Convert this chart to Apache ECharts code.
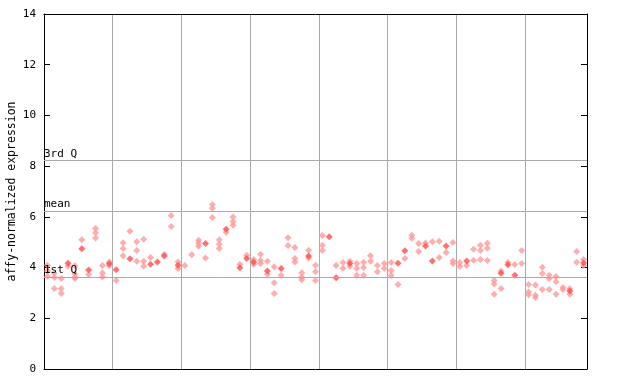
<!DOCTYPE html>
<html>
<head>
<meta charset="utf-8">
<script src="https://cdn.jsdelivr.net/npm/echarts@6/dist/echarts.min.js"></script>
<style>
html,body{margin:0;padding:0;background:#fff;}
#chart{width:640px;height:384px;}
</style>
</head>
<body>
<div id="chart"></div>
<script>
// replicate (hollow) values per sample column, left to right
const replicateValues = [
  [4.09,3.86,3.66],[3.79,3.61,3.17],[3.57,3.17,2.98],[4.05],[4.07,3.76,3.63,3.57],
  [5.10],[3.73],[5.54,5.37,5.17],[4.08,3.79,3.63],[4.22,4.07],
  [3.49],[4.98,4.75,4.47],[5.43],[5.02,4.67,4.25],[5.12,4.25,4.05],
  [4.40],[],[4.53],[6.05,5.62],[4.22,3.96],
  [4.08],[4.51],[5.08,4.97,4.85],[4.38],[6.49,6.34,5.97],
  [5.10,4.92,4.75],[5.39],[5.99,5.82,5.67],[4.13],[4.49],
  [4.32,4.13],[4.53,4.28,4.16],[4.25,3.74],[4.03,3.40,2.98],[3.70],
  [5.18,4.87],[4.79,4.36,4.22],[3.80,3.62,3.52],[4.68,4.38],[4.09,3.84,3.49],
  [5.26,4.88,4.67],[],[4.08],[4.20,3.97],[4.25,4.05],
  [4.16,3.96,3.70],[4.21,4.00,3.70],[4.47,4.25],[4.08,3.84],[4.16,3.96],
  [4.20,3.88,3.69],[3.33],[4.36],[5.27,5.16],[4.95,4.63],
  [4.97],[5.02],[5.04,4.40],[4.59],[4.99,4.26,4.16],
  [4.20,4.04],[4.08],[4.72,4.29],[4.88,4.67,4.32],[4.96,4.76,4.28],
  [3.49,3.35,2.95],[3.86,3.17],[4.20],[4.12],[4.67,4.16],
  [3.33,3.04,2.93],[3.31,2.91,2.82],[4.01,3.77,3.14],[3.70,3.57,3.14],[3.65,3.44,2.95],
  [3.21,3.14],[3.16,2.95],[4.63,4.21],[4.32,4.08]
];
// highlighted (filled) value per sample column, null where none
const highlightValues = [
  null,null,null,4.17,null,4.74,3.90,null,null,4.15,
  3.91,null,4.35,null,null,4.13,4.22,4.46,null,4.09,
  null,null,null,4.95,null,null,5.51,null,3.99,4.36,
  4.22,null,3.86,null,3.96,null,null,null,4.46,null,
  null,5.22,3.60,null,4.16,null,null,null,null,null,
  null,4.17,4.66,null,null,4.85,4.26,null,4.85,null,
  null,4.26,null,null,null,null,3.78,4.11,3.70,null,
  null,null,null,null,null,null,3.08,null,4.18
];
const quartileValues = [8.23, 6.23, 3.63];
const quartileLabels = ['3rd Q', 'mean', '1st Q'];
const yAxisTitle = 'affy-normalized expression';
const groupSize = 10;

const nCols = replicateValues.length;
const hollowData = [];
replicateValues.forEach((vals, i) => vals.forEach(v => hollowData.push([i + 0.5, v])));
const filledData = [];
highlightValues.forEach((v, i) => { if (v !== null) filledData.push([i + 0.5, v]); });

const font = 'DejaVu Sans Mono';
const chart = echarts.init(document.getElementById('chart'), null, {renderer: 'canvas'});
chart.setOption({
  animation: false,
  grid: {left: 44, right: 53, top: 14, bottom: 15, containLabel: false, outerBoundsMode: 'none'},
  xAxis: [{
    type: 'value', min: 0, max: nCols, interval: groupSize,
    axisLine: {show: true, onZero: false, lineStyle: {color: '#000', width: 1}},
    axisTick: {show: false}, axisLabel: {show: false},
    splitLine: {show: true, lineStyle: {color: '#aaaaaa', width: 1}}
  }, {
    type: 'value', position: 'top', min: 0, max: nCols,
    axisLine: {show: true, onZero: false, lineStyle: {color: '#000', width: 1}},
    axisTick: {show: false}, axisLabel: {show: false}, splitLine: {show: false}
  }],
  yAxis: [{
    type: 'value', min: 0, max: 14, interval: 2,
    name: yAxisTitle, nameLocation: 'middle', nameGap: 26, nameMoveOverlap: false,
    nameTextStyle: {fontFamily: font, fontSize: 11.5, color: '#000'},
    axisLine: {show: true, onZero: false, lineStyle: {color: '#000', width: 1}},
    axisTick: {show: true, inside: true, length: 6, lineStyle: {color: '#000'}},
    axisLabel: {fontFamily: font, fontSize: 11, color: '#000', margin: 8},
    splitLine: {show: false}
  }, {
    type: 'value', position: 'right', min: 0, max: 14, interval: 2,
    axisLine: {show: true, onZero: false, lineStyle: {color: '#000', width: 1}},
    axisTick: {show: true, inside: true, length: 6, lineStyle: {color: '#000'}},
    axisLabel: {show: false}, splitLine: {show: false}
  }],
  series: [{
    type: 'scatter', xAxisIndex: 0, yAxisIndex: 0,
    symbol: 'diamond', symbolSize: 7,
    itemStyle: {color: '#ff9a9a'},
    data: hollowData,
    markLine: {
      silent: true, symbol: 'none',
      lineStyle: {color: '#aaaaaa', width: 1, type: 'solid'},
      label: {
        show: true, position: 'insideStartTop', distance: [0, 1],
        fontFamily: font, fontSize: 11, color: '#000',
        formatter: p => p.name
      },
      data: quartileValues.map((v, k) => ({yAxis: v, name: quartileLabels[k]}))
    },
    z: 3
  }, {
    type: 'scatter', xAxisIndex: 0, yAxisIndex: 0,
    symbol: 'diamond', symbolSize: 7,
    itemStyle: {color: '#ff4d4d'},
    data: filledData,
    z: 4
  }]
});
</script>
</body>
</html>
